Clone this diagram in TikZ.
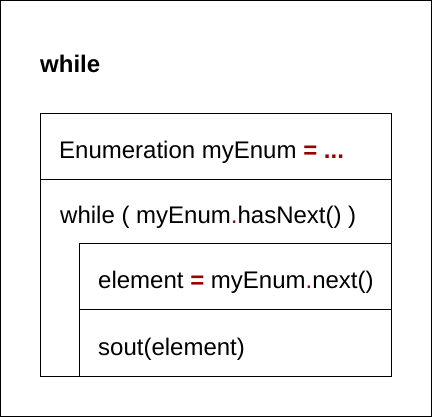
\documentclass[tikz,border=0pt]{standalone}
\usepackage{fontspec}
\setmainfont{Liberation Sans}
\definecolor{kw}{HTML}{990000}
\newcommand{\op}[1]{\textcolor{kw}{#1}}
\begin{document}
\begin{tikzpicture}[x=1pt,y=-1pt,
  frame/.style={draw=black,line width=1pt},
  code/.style={anchor=base west,inner sep=0pt,font=\fontsize{24}{28}\selectfont},
  title/.style={code,font=\fontsize{24}{28}\selectfont\bfseries}]
  \useasboundingbox (0,0) rectangle (432,417);
  % outer frame
  \draw[frame] (0.5,0.5) rectangle (431.5,416.5);
  % statement block
  \draw[frame] (40.5,113.5) rectangle (391.5,376.5);
  \draw[frame] (40.5,179.5) -- (391.5,179.5);
  % loop body
  \draw[frame] (79.5,243.5) rectangle (391.5,376.5);
  \draw[frame] (79.5,309.5) -- (391.5,309.5);
  % texts
  \node[title] (head) at (40,73) {while};
  \node[code] (decl) at (59,159) {Enumeration myEnum \op{\textbf{= ...}}};
  \node[code] (loop) at (60,224) {while ( myEnum\op{.}hasNext() )};
  \node[code] (assign) at (98,289) {element \op{\textbf{=}} myEnum\op{.}next()};
  \node[code] (print) at (98,356) {sout(element)};
\end{tikzpicture}
\end{document}
